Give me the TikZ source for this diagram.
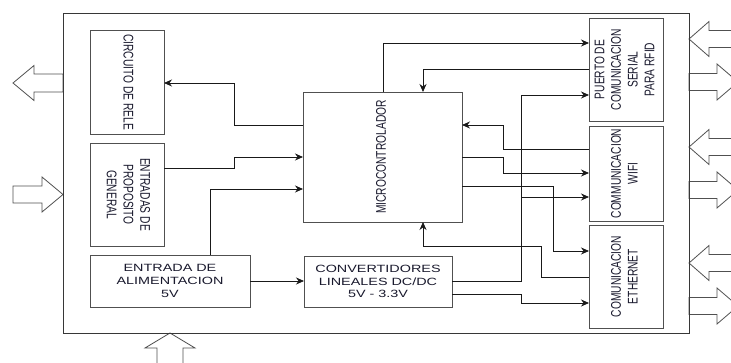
\documentclass[tikz,border=0pt]{standalone}
\usepackage{fontspec}
\setmainfont{Liberation Sans}
\newfontfamily\hfont[FakeStretch=1.37]{Liberation Sans}
\newfontfamily\vfont[FakeStretch=0.73]{Liberation Sans}
\usepackage{graphicx}
\usetikzlibrary{arrows.meta,calc,positioning}
\definecolor{BoardLine}{RGB}{55,55,55}
\definecolor{BoxLine}{RGB}{80,80,80}
\definecolor{WireLine}{RGB}{25,25,25}
\definecolor{LabelInk}{RGB}{25,25,45}
\newcommand{\vlabel}[2]{\rotatebox{#1}{\vfont\fontsize{14}{16.7}\selectfont\begin{tabular}{@{}c@{}}#2\end{tabular}}}

\begin{document}
\begin{tikzpicture}[x=1pt,y=-1pt,>=Stealth]
        \tikzset{blk/.style={draw=BoxLine,line width=0.8pt,fill=white,inner sep=0pt,outer sep=0pt,text=LabelInk,align=center,font=\hfont\fontsize{10.5}{12.7}\selectfont},
          wire/.style={draw=WireLine,line width=0.8pt,-{Stealth[length=8pt,width=7pt]}},
          bigarrow/.style={draw=BoxLine,line width=0.8pt,fill=white}}
        \clip (0,0) rectangle (731,363);
        \draw[bigarrow] (13,83) -- (34,65.5) -- (34,74) -- (63,74) -- (63,92) -- (34,92) -- (34,100.5) -- cycle;
        \draw[bigarrow] (13,186) -- (42,186) -- (42,177) -- (63,194.5) -- (42,212) -- (42,203) -- (13,203) -- cycle;
        \draw[bigarrow] (170,333) -- (195,348) -- (183,348) -- (183,370) -- (157,370) -- (157,348) -- (145,348) -- cycle;
        \foreach \yy in {39,147,263}
          \draw[bigarrow] (689,\yy) -- (709,\yy-17.5) -- (709,\yy-8.5) -- (740,\yy-8.5) -- (740,\yy+8.5) -- (709,\yy+8.5) -- (709,\yy+17.5) -- cycle;
        \foreach \yy in {82,190,306}
          \draw[bigarrow] (689,\yy-8.5) -- (717,\yy-8.5) -- (717,\yy-18) -- (738,\yy) -- (717,\yy+18) -- (717,\yy+8.5) -- (689,\yy+8.5) -- cycle;
        \node[draw=BoardLine,line width=0.9pt,minimum width=626,minimum height=320,inner sep=0pt] (board) at (376,173) {};
        \node[blk,minimum width=74,minimum height=104] (rele) at (127,82) {\vlabel{-90}{CIRCUITO DE RELE}};
        \node[blk,minimum width=74,minimum height=103] (gpio) at (127,194.5) {\vlabel{-90}{ENTRADAS DE\\PROPOSITO\\GENERAL}};
        \node[blk,minimum width=159,minimum height=130] (micro) at (382.5,157) {\vlabel{90}{MICROCONTROLADOR}};
        \node[blk,minimum width=160,minimum height=52] (power) at (170,281) {ENTRADA DE\\ALIMENTACION\\5V};
        \node[blk,minimum width=148,minimum height=51] (conv) at (378,281.5) {CONVERTIDORES\\LINEALES DC/DC\\5V - 3.3V};
        \node[blk,minimum width=74,minimum height=103] (rfid) at (626,69.5) {\vlabel{90}{PUERTO DE\\COMUNICACION\\SERIAL\\PARA RFID}};
        \node[blk,minimum width=74,minimum height=95] (wifi) at (626,173.5) {\vlabel{90}{COMMUNICACION\\WIFI}};
        \node[blk,minimum width=74,minimum height=103] (eth) at (626,276.5) {\vlabel{90}{COMUNICACION\\ETHERNET}};
        \coordinate (tap) at (521,197);
        \draw[wire] (micro.west |- 0,125) -| (234,83) -- (rele.east |- 0,83);
        \draw[wire] (gpio.east |- 0,168) -- (234,168) |- (micro.west |- 0,157);
        \draw[wire] (power.north -| 210,0) |- (micro.west |- 0,189);
        \draw[wire] (power.east) -- (power.east -| conv.west);
        \draw[wire] (micro.north -| 383,0) |- (rfid.west |- 0,43);
        \draw[wire] (rfid.west |- 0,69) -| (micro.north -| 423,0);
        \draw[wire] (conv.east |- 0,281) -| (521,95) -- (rfid.west |- 0,95);
        \draw[wire] (tap) -- (wifi.west |- tap);
        \draw[wire] (wifi.west |- 0,149) -| (503,125) -- (micro.east |- 0,125);
        \draw[wire] (micro.east |- 0,157) -| (503,173) -- (wifi.west |- 0,173);
        \draw[wire] (micro.east |- 0,186) -| (553,251) -- (eth.west |- 0,251);
        \draw[wire] (eth.west |- 0,277) -| (541,246) -| (micro.south -| 423,0);
        \draw[wire] (conv.east |- 0,294) -| (521,303) -- (eth.west |- 0,303);
      \end{tikzpicture}
\end{document}
